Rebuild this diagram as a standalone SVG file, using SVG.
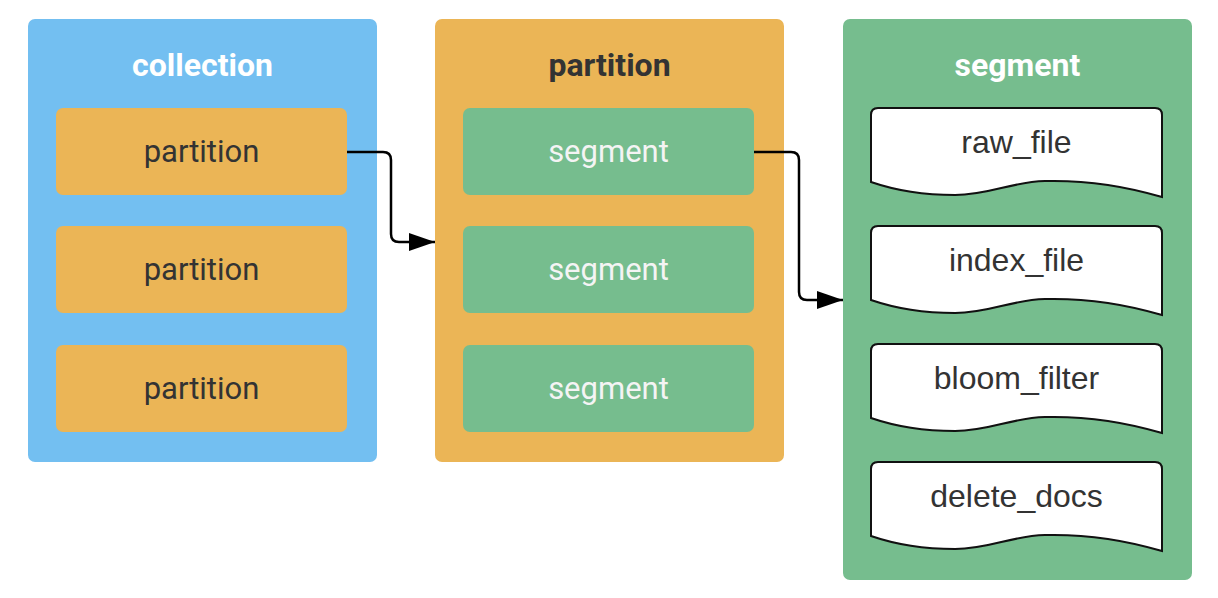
<svg xmlns="http://www.w3.org/2000/svg" width="1218" height="598" viewBox="0 0 1218 598">
<style>
.bg{fill:#ffffff}
.blue{fill:#73bff1}
.orange{fill:#ebb556}
.green{fill:#76bd8e}
.title{font-family:Roboto,"Liberation Sans",sans-serif;font-size:32px;font-weight:bold;text-anchor:middle}
.lbl{font-family:Roboto,"Liberation Sans",sans-serif;font-size:31px;text-anchor:middle}
.doclbl{font-family:"Liberation Sans",Arial,sans-serif;font-size:32px;text-anchor:middle;fill:#333333}
.doc{fill:#ffffff;stroke:#111111;stroke-width:2}
.edge{fill:none;stroke:#000000;stroke-width:2.5}
</style>
<defs>
<marker id="arr" markerUnits="userSpaceOnUse" markerWidth="28" markerHeight="20" refX="26" refY="9" orient="auto">
<path d="M0,0 L26,9 L0,18 Z" fill="#000"/>
</marker>
</defs>
<rect class="bg" x="0" y="0" width="1218" height="598"/>
<g id="collection">
<rect class="blue" x="28" y="19" width="349" height="443" rx="7"/>
<text class="title" x="202.5" y="76" fill="#ffffff">collection</text>
</g>
<g id="c-partition-1">
<rect class="orange" x="56" y="108" width="291" height="87" rx="7"/>
<text class="lbl" x="201.5" y="162" fill="#333333">partition</text>
</g>
<g id="c-partition-2">
<rect class="orange" x="56" y="226" width="291" height="87" rx="7"/>
<text class="lbl" x="201.5" y="280" fill="#333333">partition</text>
</g>
<g id="c-partition-3">
<rect class="orange" x="56" y="345" width="291" height="87" rx="7"/>
<text class="lbl" x="201.5" y="399" fill="#333333">partition</text>
</g>
<g id="partition">
<rect class="orange" x="435" y="19" width="349" height="443" rx="7"/>
<text class="title" x="609.5" y="76" fill="#333333">partition</text>
</g>
<g id="p-segment-1">
<rect class="green" x="463" y="108" width="291" height="87" rx="7"/>
<text class="lbl" x="608.5" y="162" fill="#f4f4f4">segment</text>
</g>
<g id="p-segment-2">
<rect class="green" x="463" y="226" width="291" height="87" rx="7"/>
<text class="lbl" x="608.5" y="280" fill="#f4f4f4">segment</text>
</g>
<g id="p-segment-3">
<rect class="green" x="463" y="345" width="291" height="87" rx="7"/>
<text class="lbl" x="608.5" y="399" fill="#f4f4f4">segment</text>
</g>
<g id="segment">
<rect class="green" x="843" y="19" width="349" height="561" rx="7"/>
<text class="title" x="1017.5" y="76" fill="#ffffff">segment</text>
</g>
<g id="raw_file">
<path class="doc" d="M871,182 L871,115 Q871,108 878,108 L1155,108 Q1162,108 1162,115 L1162,197 C1125,186 1085,180 1045,181 C1010,182 990,195 955,195 C925,195 900,192 871,182 Z"/>
<text class="doclbl" x="1016.5" y="153">raw_file</text>
</g>
<g id="index_file">
<path class="doc" d="M871,300 L871,233 Q871,226 878,226 L1155,226 Q1162,226 1162,233 L1162,315 C1125,304 1085,298 1045,299 C1010,300 990,313 955,313 C925,313 900,310 871,300 Z"/>
<text class="doclbl" x="1016.5" y="271">index_file</text>
</g>
<g id="bloom_filter">
<path class="doc" d="M871,418 L871,351 Q871,344 878,344 L1155,344 Q1162,344 1162,351 L1162,433 C1125,422 1085,416 1045,417 C1010,418 990,431 955,431 C925,431 900,428 871,418 Z"/>
<text class="doclbl" x="1016.5" y="389">bloom_filter</text>
</g>
<g id="delete_docs">
<path class="doc" d="M871,536 L871,469 Q871,462 878,462 L1155,462 Q1162,462 1162,469 L1162,551 C1125,540 1085,534 1045,535 C1010,536 990,549 955,549 C925,549 900,546 871,536 Z"/>
<text class="doclbl" x="1016.5" y="507">delete_docs</text>
</g>
<g id="connectors">
<path class="edge" d="M347,152 L383,152 Q391,152 391,160 L391,234 Q391,242 399,242 L435,242" marker-end="url(#arr)"/>
<path class="edge" d="M754,152 L791,152 Q799,152 799,160 L799,292 Q799,300 807,300 L843,300" marker-end="url(#arr)"/>
</g>
</svg>
